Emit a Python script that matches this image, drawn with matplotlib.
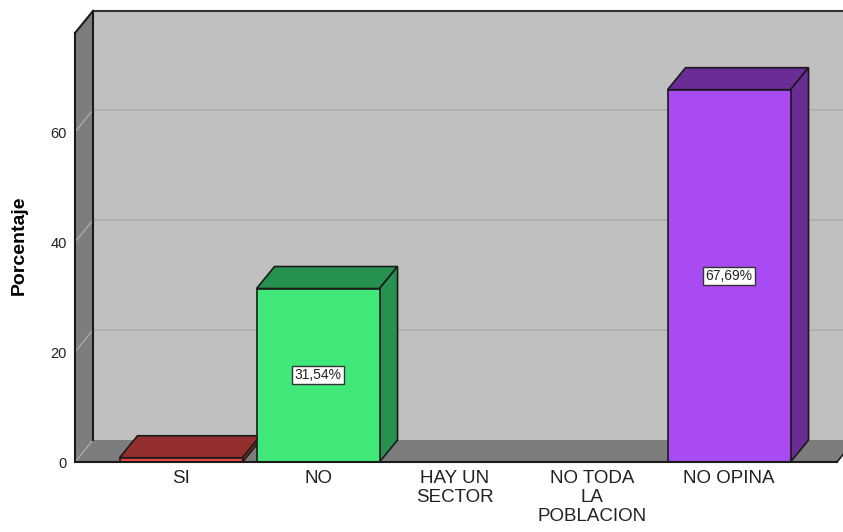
import matplotlib
matplotlib.use("Agg")
import matplotlib.pyplot as plt
from matplotlib.patches import Polygon

plt.rcParams['font.family'] = ['Liberation Sans', 'DejaVu Sans']

# datos
categorias = ["SI", "NO", "HAY UN\nSECTOR", "NO TODA\nLA\nPOBLACION", "NO OPINA"]
porcentajes = [0.77, 31.54, 0.0, 0.0, 67.69]
etiquetas = ["", "31,54%", "", "", "67,69%"]
color_frente = ["#e84545", "#40e87a", "#c0c0c0", "#c0c0c0", "#a94bf2"]
color_lado = ["#942f2f", "#27914f", "#c0c0c0", "#c0c0c0", "#6b2c96"]
yticks = [0, 20, 40, 60]

W, H = 843, 532
fig = plt.figure(figsize=(W / 100, H / 100), dpi=100)
ax = fig.add_axes([75 / W, (H - 462) / H, (837 - 75) / W, (462 - 33) / H])

x0, x1 = -0.774, 4.788
ymax = 78
dx, dy = 18 / 137, 4.0   # profundidad 3D
ancho = 123 / 137

ax.set_xlim(x0, x1)
ax.set_ylim(0, ymax)
ax.patch.set_visible(False)
for s in ax.spines.values():
    s.set_visible(False)

def poly(pts, fc, ec="none", lw=0, z=1):
    ax.add_patch(Polygon(pts, closed=True, facecolor=fc, edgecolor=ec, linewidth=lw,
                         zorder=z, clip_on=False))

# pared trasera, izquierda y piso
poly([(x0 + dx, dy), (x1 + dx + 0.2, dy), (x1 + dx + 0.2, ymax + dy), (x0 + dx, ymax + dy)], "#c0c0c0", z=0.1)
poly([(x0, 0), (x0 + dx, dy), (x0 + dx, ymax + dy), (x0, ymax)], "#7d7d7d", z=0.2)
poly([(x0, 0), (x1, 0), (x1 + dx, dy), (x0 + dx, dy)], "#7d7d7d", z=0.2)

for v in yticks:
    if v > 0:
        ax.plot([x0 + dx, x1 + dx + 0.2], [v + dy, v + dy], color="#adadad", lw=1.2, zorder=0.15, clip_on=False)
    ax.plot([x0, x0 + dx], [v, v + dy], color="#a8a8a8", lw=1, zorder=0.3, clip_on=False)

# bordes
ax.plot([x0 + dx, x0 + dx], [dy, ymax + dy], color="#1a1a1a", lw=1.5, zorder=0.4, clip_on=False)
ax.plot([x0 + dx, x1 + dx + 0.2], [ymax + dy, ymax + dy], color="#333333", lw=1.5, zorder=0.4, clip_on=False)
ax.plot([x0, x0 + dx], [ymax, ymax + dy], color="#1a1a1a", lw=1.5, zorder=0.4, clip_on=False)
ax.plot([x0, x0], [0, ymax], color="#1a1a1a", lw=1.5, zorder=0.4, clip_on=False)
ax.plot([x0, x1], [0, 0], color="#1a1a1a", lw=1.5, zorder=5, clip_on=False)
ax.plot([x1, x1 + dx], [0, dy], color="#1a1a1a", lw=1.2, zorder=5, clip_on=False)

# barras
for i, v in enumerate(porcentajes):
    if v <= 0:
        continue
    l, r = i - ancho / 2, i + ancho / 2
    ax.bar(i, v, width=ancho, color=color_frente[i], edgecolor="#1a1a1a", linewidth=1.2, zorder=3)
    poly([(l, v), (r, v), (r + dx, v + dy), (l + dx, v + dy)], color_lado[i], "#1a1a1a", 1.2, 2.5)
    poly([(r, 0), (r + dx, dy), (r + dx, v + dy), (r, v)], color_lado[i], "#1a1a1a", 1.2, 2.5)
    if etiquetas[i]:
        ax.text(i, v / 2, etiquetas[i], ha="center", va="center", fontsize=10, zorder=6,
                color="#222222",
                bbox=dict(boxstyle="square,pad=0.15", facecolor="white", edgecolor="#333333", linewidth=1))

ax.set_yticks(yticks)
ax.set_yticklabels([str(t) for t in yticks], fontsize=10.5)
ax.set_xticks(range(len(categorias)))
ax.set_xticklabels(categorias, fontsize=13.5, linespacing=1.15)
for t in ax.get_xticklabels():
    t.set_multialignment("center")
ax.tick_params(axis="y", length=0, pad=6, colors="#222222")
ax.tick_params(axis="x", length=0, pad=6, colors="#222222")

ax.set_ylabel("Porcentaje", fontsize=14, fontweight="bold")
ax.yaxis.set_label_coords(-0.062, 0.506)

fig.savefig("out.png", dpi=100)
